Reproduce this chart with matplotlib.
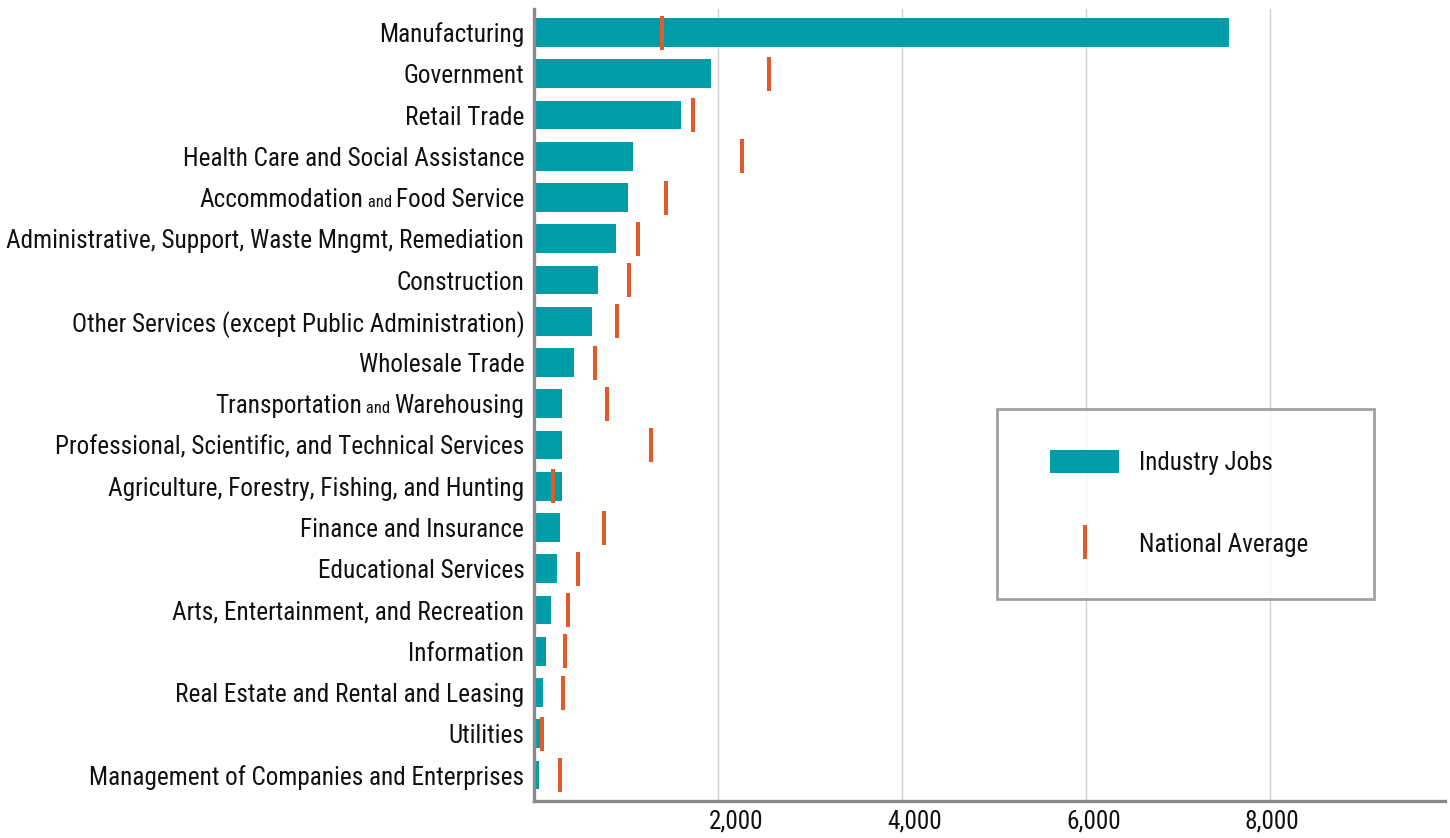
import matplotlib
matplotlib.use("Agg")
import matplotlib.pyplot as plt
from matplotlib.patches import Patch
from matplotlib.lines import Line2D
from matplotlib.legend_handler import HandlerPatch, HandlerLine2D

industries = [
    "Manufacturing",
    "Government",
    "Retail Trade",
    "Health Care and Social Assistance",
    "Accommodation and Food Service",
    "Administrative, Support, Waste Mngmt, Remediation",
    "Construction",
    "Other Services (except Public Administration)",
    "Wholesale Trade",
    "Transportation and Warehousing",
    "Professional, Scientific, and Technical Services",
    "Agriculture, Forestry, Fishing, and Hunting",
    "Finance and Insurance",
    "Educational Services",
    "Arts, Entertainment, and Recreation",
    "Information",
    "Real Estate and Rental and Leasing",
    "Utilities",
    "Management of Companies and Enterprises",
]
industry_jobs = [7550, 1920, 1600, 1075, 1020, 890, 695, 630, 435, 300,
                 300, 300, 280, 250, 185, 130, 95, 75, 55]
national_avg = [1390, 2550, 1725, 2260, 1435, 1130, 1030, 900, 665, 795,
                1270, 205, 760, 480, 370, 335, 315, 85, 280]
xticks = [2000, 4000, 6000, 8000]

# labels where "and" is set in a smaller size
split_labels = {
    "Accommodation and Food Service": ("Accommodation", " and ", "Food Service"),
    "Transportation and Warehousing": ("Transportation", " and ", "Warehousing"),
}

teal = "#009DA7"
orange = "#E05A2B"
grey = "#8A8A8D"
ink = "#111111"
fs = 18.2

plt.rcParams["font.family"] = ["Roboto Condensed", "Liberation Sans Narrow",
                               "Arial Narrow", "DejaVu Sans"]
plt.rcParams["font.stretch"] = "condensed"

fig = plt.figure(figsize=(14.5, 8.38), dpi=100)
ax = fig.add_axes([534 / 1450, 1 - 801 / 838, (1445 - 534) / 1450, (801 - 9) / 838])

y = list(range(len(industries)))
ax.barh(y, industry_jobs, height=0.7, color=teal, zorder=2)
ax.plot(national_avg, y, linestyle="none", marker="|", ms=25, mew=2.9,
        color=orange, zorder=3)

ax.set_ylim(len(industries) - 1 + 0.63, -0.57)
ax.set_xlim(0, 9900)
ax.set_xticks(xticks)
ax.set_xticklabels([])
ax.set_yticks(y)
ax.set_yticklabels(["" if n in split_labels else n for n in industries])
ax.xaxis.grid(True, color="#d0d0d0", lw=1)
ax.set_axisbelow(True)
for s in ["top", "right"]:
    ax.spines[s].set_visible(False)
for s in ["left", "bottom"]:
    ax.spines[s].set_color(grey)
    ax.spines[s].set_linewidth(2.4)
ax.tick_params(length=0, labelsize=fs, colors=ink)
ax.tick_params(axis="y", pad=7)

# the original's tick labels sit on a slightly squeezed scale
sec = ax.secondary_xaxis("bottom", functions=(lambda u: (u - 250) / 0.9713,
                                              lambda v: 250 + 0.9713 * v))
sec.set_xticks(xticks)
sec.set_xticklabels([f"{v:,}" for v in xticks])
sec.spines["bottom"].set_visible(False)
sec.tick_params(length=0, labelsize=fs, colors=ink, pad=6)

# composite labels, built right to left
for i, name in enumerate(industries):
    if name not in split_labels:
        continue
    left, mid, right = split_labels[name]
    t1 = ax.annotate(right, xy=(0, i), xycoords=ax.get_yaxis_transform(),
                     xytext=(-10, 0), textcoords="offset pixels",
                     ha="right", va="center_baseline", fontsize=fs, color=ink)
    t2 = ax.annotate(mid, xy=(0, 0), xycoords=t1, xytext=(0, 2),
                     textcoords="offset pixels", ha="right", va="bottom",
                     fontsize=12, color=ink)
    ax.annotate(left, xy=(0, 0), xycoords=t2, xytext=(0, -2),
                textcoords="offset pixels", ha="right", va="bottom",
                fontsize=fs, color=ink)

handles = [
    Patch(facecolor=teal, edgecolor="none", label="Industry Jobs"),
    Line2D([], [], linestyle="none", marker="|", ms=25, mew=2.9,
           color=orange, label="National Average"),
]
leg = ax.legend(handles=handles, loc="upper left",
                bbox_to_anchor=(997 / 1450, 1 - 409 / 838, 377 / 1450, 0),
                bbox_transform=fig.transFigure, mode="expand",
                fontsize=18, frameon=True, fancybox=False,
                borderpad=1.65, handlelength=3.23, handleheight=1.04,
                handletextpad=0.8, labelspacing=2.28, borderaxespad=0,
                handler_map={Patch: HandlerPatch(xpad=0.47),
                             Line2D: HandlerLine2D(xpad=0.47)})
leg.get_frame().set_edgecolor(grey)
leg.get_frame().set_linewidth(2.0)
for t in leg.get_texts():
    t.set_color(ink)

fig.savefig("out.png", dpi=100)
